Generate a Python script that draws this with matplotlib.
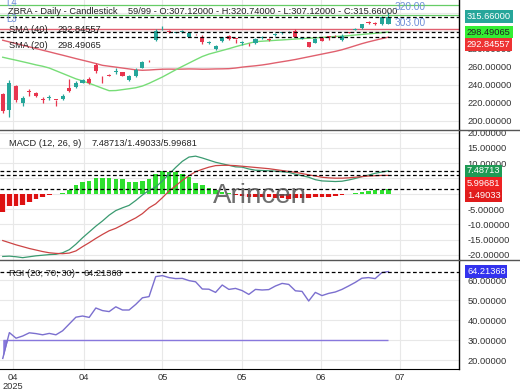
import matplotlib
matplotlib.use('Agg')
import matplotlib.pyplot as plt
from matplotlib.lines import Line2D
import numpy as np

plt.rcParams['font.family'] = ['Liberation Sans', 'DejaVu Sans']

# ---------------- data ----------------
opens = [229.7, 211.9, 238.6, 219.3, 232.6, 230.4, 224.2, 225.2, 223.3, 224.5,
         236.0, 237.1, 242.2, 246.3, 261.9, 249.7, 251.0, 254.0, 253.7, 245.2,
         250.0, 258.9, 266.5, 289.7, 300.6, 299.5, 297.6, 298.6, 293.3, 296.2,
         293.3, 286.8, 279.7, 288.9, 294.1, 291.0, 286.5, 286.2, 286.0, 292.4,
         290.6, 295.4, 297.6, 298.0, 300.0, 291.0, 287.0, 286.7, 292.2, 293.5,
         294.3, 289.7, 298.5, 301.0, 302.7, 309.2, 308.5, 307.1, 307.12]
highs = [231.0, 245.2, 239.7, 227.4, 235.5, 231.5, 226.7, 228.5, 223.5, 229.5,
         246.0, 244.0, 246.5, 248.5, 263.8, 250.0, 251.5, 258.0, 254.5, 250.5,
         258.0, 266.5, 267.5, 301.5, 305.5, 301.0, 298.5, 301.0, 297.5, 296.8,
         295.0, 288.5, 284.0, 293.5, 295.0, 291.2, 289.0, 286.4, 291.5, 294.0,
         292.0, 297.0, 299.0, 299.5, 301.5, 292.5, 287.5, 291.5, 293.0, 293.6,
         295.0, 296.0, 299.0, 302.8, 307.8, 310.5, 309.8, 316.0, 320.74]
lows = [208.3, 204.4, 221.1, 216.3, 227.8, 226.5, 219.3, 222.5, 216.3, 223.5,
        232.2, 236.0, 241.5, 240.5, 253.3, 242.2, 249.5, 252.0, 249.5, 244.5,
        249.0, 258.0, 265.5, 289.0, 300.3, 297.5, 297.0, 297.5, 292.8, 295.5,
        285.5, 285.5, 279.0, 287.0, 289.5, 286.7, 284.5, 282.5, 285.0, 291.0,
        288.0, 294.5, 296.5, 297.0, 292.5, 290.5, 281.5, 286.0, 288.0, 290.0,
        292.5, 288.5, 297.0, 300.5, 302.2, 307.5, 306.8, 306.5, 307.12]
closes = [211.1, 242.2, 223.0, 224.9, 231.8, 227.4, 223.5, 226.0, 223.0, 227.0,
          233.3, 242.2, 245.2, 241.5, 255.6, 249.4, 250.0, 254.8, 250.0, 249.7,
          256.3, 265.6, 265.8, 300.0, 301.0, 298.5, 298.0, 299.2, 297.0, 296.0,
          287.8, 287.3, 283.3, 292.6, 290.4, 290.8, 287.0, 286.0, 290.4, 292.8,
          290.2, 295.8, 298.0, 298.4, 293.3, 292.0, 282.2, 290.8, 288.9, 293.3,
          293.9, 294.1, 297.8, 302.0, 307.1, 308.6, 307.9, 314.9, 315.66]

sma20 = [270.5, 268.8, 267.2, 265.5, 263.8, 262.0, 260.5, 258.5, 255.5, 252.5,
         249.5, 246.5, 244.2, 241.5, 238.8, 236.0, 233.3, 233.5, 234.5, 235.5,
         236.6, 238.5, 241.5, 245.0, 248.5, 252.5, 256.5, 260.3, 264.0, 267.7,
         271.3, 274.0, 276.0, 278.0, 280.0, 282.2, 284.2, 286.0, 287.8, 288.3,
         288.8, 289.3, 289.7, 290.2, 290.7, 291.2, 291.6, 292.1, 292.5, 293.0,
         293.5, 293.9, 294.5, 295.2, 295.8, 296.5, 297.1, 297.8, 298.49065]
sma40 = [289.4, 287.5, 285.7, 283.8, 282.0, 280.2, 278.3, 276.5, 274.6, 272.8,
         270.9, 269.0, 267.2, 265.4, 263.5, 261.5, 260.5, 259.5, 258.5, 257.5,
         256.5, 256.0, 256.3, 256.8, 257.2, 257.3, 257.2, 257.3, 257.5, 257.4,
         257.2, 257.3, 257.5, 257.6, 257.8, 258.5, 259.5, 260.3, 261.0, 261.9,
         263.0, 264.3, 265.5, 266.7, 268.0, 269.5, 271.0, 272.5, 274.0, 275.5,
         277.0, 278.8, 281.0, 283.3, 285.6, 287.6, 289.4, 291.2, 292.84557]

macd_line = [-20.5, -20.4, -20.6, -20.9, -20.6, -20.3, -20.1, -19.9, -19.8, -19.3,
             -18.3, -16.5, -14.4, -12.5, -10.6, -8.9, -7.0, -5.5, -4.6, -3.8,
             -2.2, -0.4, 1.1, 2.2, 4.2, 6.4, 8.6, 10.6, 12.0, 12.3,
             11.7, 11.0, 10.3, 9.8, 9.3, 8.8, 8.7, 8.1, 7.7, 7.6,
             7.5, 7.4, 7.2, 7.0, 6.4, 5.9, 5.4, 4.6, 4.2, 4.1,
             4.0, 4.1, 4.5, 5.0, 5.6, 6.1, 6.7, 7.1, 7.48713]
macd_signal = [-15.3, -16.0, -16.7, -17.3, -17.9, -18.4, -18.9, -19.3, -19.5, -19.6,
               -19.4, -18.7, -17.3, -16.0, -14.6, -13.3, -12.1, -11.3, -10.2, -9.0,
               -7.9, -6.5, -4.6, -3.3, -1.3, 0.9, 2.6, 4.4, 5.9, 7.2,
               8.0, 8.7, 9.2, 9.3, 9.3, 9.2, 9.0, 8.8, 8.6, 8.4,
               8.2, 7.9, 7.6, 7.3, 7.0, 6.6, 6.2, 5.8, 5.4, 5.2,
               5.1, 5.1, 5.2, 5.4, 5.6, 5.8, 5.9, 6.0, 5.99681]
macd_hist = [-6.0, -4.1, -4.1, -3.6, -2.6, -1.7, -1.2, -0.5, -0.2, 0.3,
             1.3, 2.7, 3.8, 4.3, 5.1, 5.2, 5.1, 4.9, 4.8, 4.0,
             4.0, 4.3, 4.9, 6.4, 7.4, 7.2, 7.0, 6.6, 5.4, 3.6,
             2.8, 1.8, 1.1, 0.6, 0.2, -0.3, -0.7, -0.9, -1.0, -1.0,
             -1.1, -1.3, -1.5, -1.6, -1.5, -1.4, -1.3, -1.1, -1.0, -0.9,
             -0.7, -0.5, -0.2, 0.3, 0.6, 0.9, 1.1, 1.3, 1.49033]

rsi = [20.8, 33.7, 30.9, 32.0, 33.6, 33.2, 32.6, 33.3, 32.6, 34.6,
       38.0, 41.4, 42.0, 41.3, 46.0, 44.7, 44.2, 46.6, 45.0, 45.0,
       47.8, 51.1, 51.7, 61.7, 62.2, 61.2, 60.7, 60.8, 59.7, 59.1,
       55.5, 55.4, 53.8, 57.5, 55.3, 55.8, 54.7, 52.8, 55.3, 55.0,
       55.2, 57.0, 58.3, 57.8, 54.6, 54.3, 49.5, 53.8, 52.2, 53.3,
       54.0, 55.3, 57.0, 58.8, 60.9, 61.2, 60.7, 63.7, 64.21368]
rsi_low = 30

tick_pos = [1.5, 12.2, 24.0, 36.0, 47.8, 59.7]
tick_labels = ['04\n2025', '04', '05', '05', '06', '07']

green_levels = [329.0, 317.4]
green_level_texts = ['320.00', '303.00']
green_level_names = ['L4', 'L3']
red_level = 301.6

symbol = 'ZBRA'
# --------------------------------------

W, H = 520, 390
fig = plt.figure(figsize=(W / 100, H / 100), dpi=100)
fig.patch.set_facecolor('white')

def fy(py):
    return 1 - py / H

def fx(px):
    return px / W

RIGHT = 459
ax1 = fig.add_axes([0, fy(129.5), fx(RIGHT), 129.5 / H])
ax2 = fig.add_axes([0, fy(259.5), fx(RIGHT), (259.5 - 130) / H])
ax3 = fig.add_axes([0, fy(368.5), fx(RIGHT), (368.5 - 260) / H])

x = np.arange(len(closes))
XLIM = (-0.41, 68.6)
TXT = '#333333'
FS = 6.7

for ax in (ax1, ax2, ax3):
    ax.set_xlim(*XLIM)
    ax.yaxis.tick_right()
    ax.tick_params(axis='y', length=0, pad=6, labelsize=FS, labelcolor=TXT)
    ax.tick_params(axis='x', length=0, pad=3, labelsize=FS, labelcolor=TXT)
    ax.set_xticks(tick_pos)
    ax.grid(True, color='#e8e8e8', lw=0.8)
    ax.set_axisbelow(True)
    for s in ('left', 'top', 'bottom'):
        ax.spines[s].set_visible(False)
    ax.spines['right'].set_color('black')
    ax.spines['right'].set_linewidth(1.0)
    ax.set_facecolor('white')

ax1.set_xticklabels([])
ax2.set_xticklabels([])
ax3.set_xticklabels(tick_labels, linespacing=1.0)
ax3.spines['bottom'].set_visible(True)
ax3.spines['bottom'].set_color('black')

# ---------- price panel ----------
UP, DN = '#26a69a', '#e8364f'
ax1.set_ylim(190.2, 334.1)
ax1.set_yticks(np.arange(200, 321, 20))
ax1.yaxis.set_major_formatter(matplotlib.ticker.FormatStrFormatter('%.5f'))
cols = [UP if c >= o else DN for o, c in zip(opens, closes)]
ax1.vlines(x, lows, highs, colors=cols, lw=0.9, zorder=3)
bottoms = [min(o, c) for o, c in zip(opens, closes)]
heights = [max(abs(c - o), 0.7) for o, c in zip(opens, closes)]
ax1.bar(x, heights, bottom=bottoms, width=0.62, color=cols, zorder=4, lw=0)
ax1.plot(x, sma40, color='#e0606e', lw=1.0, zorder=2)
ax1.plot(x, sma20, color='#77dd77', lw=1.0, zorder=2)
for lv in green_levels:
    ax1.axhline(lv, color='#66cc66', lw=0.9, zorder=2)
ax1.axhline(red_level, color='#e06070', lw=1.0, zorder=2)
for v in (closes[-1], sma20[-1], sma40[-1]):
    ax1.axhline(v, color='black', lw=0.9, ls=(0, (3, 2)), zorder=5)

# ---------- MACD panel ----------
ax2.set_ylim(-21.5, 20.85)
ax2.set_yticks(np.arange(-20, 21, 5))
ax2.yaxis.set_major_formatter(matplotlib.ticker.FormatStrFormatter('%.5f'))
hist = np.array(macd_hist)
ax2.fill_between(x, hist, 0, where=hist < 0, step='mid', color='#ffdde6', lw=0, zorder=1)
hcols = ['#2ee02e' if h >= 0 else '#dd1111' for h in macd_hist]
ax2.bar(x, macd_hist, width=0.68, color=hcols, zorder=2, lw=0)
ax2.plot(x, macd_line, color='#3a9a70', lw=0.9, zorder=3)
ax2.plot(x, macd_signal, color='#cc4444', lw=0.9, zorder=3)
for v in (macd_line[-1], macd_signal[-1], macd_hist[-1]):
    ax2.axhline(v, color='black', lw=0.9, ls=(0, (3, 2)), zorder=5)

# ---------- RSI panel ----------
ax3.set_ylim(15.75, 70)
ax3.set_yticks(np.arange(20, 61, 10))
ax3.yaxis.set_major_formatter(matplotlib.ticker.FormatStrFormatter('%.5f'))
r = np.array(rsi)
ax3.fill_between(x, r, rsi_low, where=r < rsi_low, interpolate=True, color='#8878dd', lw=0)
ax3.hlines(rsi_low, x[0], x[-1], color='#8878dd', lw=1.0)
ax3.plot(x, rsi, color='#7b6fcf', lw=1.0)
ax3.axhline(rsi[-1], color='black', lw=0.9, ls=(0, (3, 2)), zorder=5)

# ---------- separators ----------
for py in (129.5, 259.5):
    fig.add_artist(Line2D([0, 1], [fy(py), fy(py)], color='#555555', lw=1.0))

# ---------- texts ----------
def ftext(px, py, s, **kw):
    kw.setdefault('fontsize', FS)
    kw.setdefault('color', '#222222')
    kw.setdefault('va', 'center')
    return fig.text(fx(px), fy(py), s, **kw)

ftext(8, 12, f'{symbol} - Daily - Candlestick    {len(closes)}/99 - O:{opens[-1]:.5f} - '
      f'H:{highs[-1]:.5f} - L:{lows[-1]:.5f} - C:{closes[-1]:.5f}')
ftext(9, 30, 'SMA (40)')
ftext(58, 30, f'{sma40[-1]:.5f}')
ftext(9, 46, 'SMA (20)')
ftext(58, 46, f'{sma20[-1]:.5f}')
ftext(9, 143, 'MACD (12, 26, 9)')
ftext(92, 143, f'{macd_line[-1]:.5f}/{macd_hist[-1]:.5f}/{macd_signal[-1]:.5f}')
ftext(9, 273, 'RSI (20; 70; 30)')
ftext(84, 273, f'{rsi[-1]:.5f}')

BLUE = '#6f8fd8'
ftext(6, 3, green_level_names[0], color=BLUE, fontsize=7)
ftext(6, 19, green_level_names[1], color=BLUE, fontsize=7)
ftext(395, 7, green_level_texts[0], color=BLUE, fontsize=7.3)
ftext(395, 23, green_level_texts[1], color=BLUE, fontsize=7.3)

fig.text(fx(213), fy(203), 'Arincen', fontsize=20, color='#555555', alpha=0.85,
         va='baseline', ha='left', zorder=10)

# ---------- right-side value tags ----------
def value_tags(ax, items, gap=12.5):
    placed = []
    for v, fc, tc in sorted(items, key=lambda t: -t[0]):
        py = ax.transData.transform((0, v))[1]
        if placed and placed[-1] - py < gap:
            py = placed[-1] - gap
        placed.append(py)
        fig.text(fx(467), py / H, f'{v:.5f}', fontsize=FS, color=tc, va='center', ha='left',
                 zorder=20,
                 bbox=dict(boxstyle='square,pad=0.2', fc=fc, ec='none'))

value_tags(ax1, [(closes[-1], '#26a69a', 'white'),
                 (sma20[-1], '#33ee33', '#222222'),
                 (sma40[-1], '#ee3333', 'white')])
value_tags(ax2, [(macd_line[-1], '#1f9a55', 'white'),
                 (macd_signal[-1], '#ee2222', 'white'),
                 (macd_hist[-1], '#e01c1c', 'white')])
value_tags(ax3, [(rsi[-1], '#3333ee', 'white')])

fig.savefig('out.png', dpi=100, facecolor='white')
